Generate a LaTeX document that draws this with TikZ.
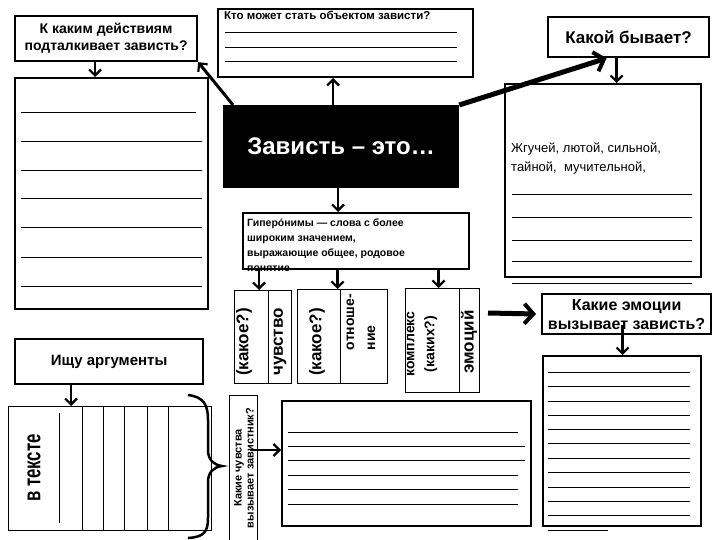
\documentclass[tikz,border=0pt]{standalone}
\usepackage{fontspec}
\setmainfont{Liberation Sans}
\newfontfamily\narrowsans[FakeStretch=0.7]{Liberation Sans}
\usetikzlibrary{arrows.meta,positioning}

\begin{document}
\begin{tikzpicture}[x=1pt, y=-1pt,
        box/.style={draw, line width=2.2pt, inner sep=0pt, align=center, anchor=north west,
            font=\bfseries\fontsize{14}{17}\selectfont},
        sheet/.style={draw, line width=2pt, inner sep=0pt, anchor=north west},
        cell/.style={draw, line width=1pt, inner sep=0pt, anchor=north west},
        vtext/.style={rotate=90, inner sep=0pt, align=center, font=\bfseries\fontsize{17}{20}\selectfont},
        rule/.style={line width=1pt},
        arr/.style={-{Straight Barb[length=6pt, width=12pt, line width=2.2pt]}, line width=2.5pt},
        fatarr/.style={-{Straight Barb[length=9pt, width=20pt, line width=4pt]}, line width=5pt}
    ]
        \useasboundingbox (0,0) rectangle (720,540);

        \node[box, minimum width=182pt, minimum height=45pt] (ask) at (14,15) {К каким действиям\\подталкивает зависть?};
        \node[sheet, minimum width=193pt, minimum height=231pt] (deeds) at (14,77) {};
        \node[sheet, minimum width=255pt, minimum height=68pt] (whom) at (217,8) {};
        \node[anchor=north west, inner sep=0pt, font=\bfseries\fontsize{11.5}{13}\selectfont] (whomq) at (224,11) {Кто может стать объектом зависти?};
        \node[box, fill=black, text=white, minimum width=234pt, minimum height=81pt,
            font=\bfseries\fontsize{24}{28}\selectfont] (envy) at (223,105) {Зависть – это…};
        \node[box, minimum width=161pt, minimum height=40pt, font=\bfseries\fontsize{17}{20}\selectfont] (kind) at (547,16) {Какой бывает?};
        \node[sheet, minimum width=196pt, minimum height=193pt] (kinds) at (504,83) {};
        \node[anchor=north west, align=left, inner sep=0pt, font=\fontsize{13}{19}\selectfont] (kindsq) at (511,143) {Жгучей, лютой, сильной,\\тайной,\ \ мучительной,};

        \node[anchor=north west, align=left, inner sep=0pt, font=\bfseries\fontsize{10.5}{15}\selectfont] (hypq) at (247,219)
            {Гиперо́нимы — слова с более\\широким значением,\\выражающие общее, родовое\\понятие};
        \node[sheet, minimum width=226pt, minimum height=56pt] (hyp) at (242,212) {};

        \node[cell, minimum width=57pt, minimum height=93pt] (cella) at (234,290) {};
        \node[cell, minimum width=90pt, minimum height=94pt] (cellb) at (297,289) {};
        \node[cell, minimum width=74pt, minimum height=104pt] (cellc) at (405,288) {};
        \draw[line width=1pt] ([xshift=34pt]cella.north west) -- ([xshift=34pt]cella.south west);
        \draw[line width=1pt] ([xshift=43pt]cellb.north west) -- ([xshift=43pt]cellb.south west);
        \draw[line width=1pt] ([xshift=54pt]cellc.north west) -- ([xshift=54pt]cellc.south west);
        \node[vtext] (a1) at (244,342) {(какое?)};
        \node[vtext] (a2) at (280,342) {чувство};
        \node[vtext] (b1) at (317,342) {(какое?)};
        \node[vtext, align=left, font=\bfseries\fontsize{14}{21}\selectfont] (b2) at (361,322) {отноше-\\ние};
        \node[vtext, font=\bfseries\fontsize{14}{20}\selectfont] (c1) at (422,344) {комплекс\\(каких?)};
        \node[vtext] (c2) at (469,342) {эмоций};

        \node[box, minimum width=169pt, minimum height=40pt, font=\bfseries\fontsize{16}{19}\selectfont] (emo) at (541,293) {Какие эмоции\\вызывает зависть?};
        \node[sheet, minimum width=158pt, minimum height=170pt] (emos) at (542,355) {};

        \node[box, minimum width=188pt, minimum height=45pt, font=\bfseries\fontsize{15}{18}\selectfont] (args) at (14,338) {Ищу аргументы};
        \node[sheet, line width=1.3pt, minimum width=203pt, minimum height=124pt] (intext) at (8,406) {};
        \node[vtext, font=\narrowsans\bfseries\fontsize{24}{26}\selectfont] (intextq) at (34,468) {в тексте};
        \node[cell, line width=1.2pt, minimum width=28pt, minimum height=150pt] (feel) at (229,395) {};
        \node[vtext, font=\bfseries\fontsize{11}{12}\selectfont] (feelq) at (244,468) {Какие чувства\\вызывает завистник?};
        \node[sheet, minimum width=249pt, minimum height=125pt] (fbox) at (281,400) {};

        \draw[arr] ([xshift=-11pt]ask.south) -- ([xshift=-11pt]ask.south |- deeds.north);
        \draw[arr] ([xshift=-8pt]envy.north) -- ([xshift=-8pt]envy.north |- whom.south);
        \draw[arr] ([xshift=-3pt]envy.south) -- ([xshift=-3pt]envy.south |- hyp.north);
        \draw[arr] ([xshift=-4pt]cella.north |- hyp.south) -- ([xshift=-4pt]cella.north);
        \draw[arr] ([xshift=-5pt]cellb.north |- hyp.south) -- ([xshift=-5pt]cellb.north);
        \draw[arr] ([xshift=-4pt]cellc.north |- hyp.south) -- ([xshift=-4pt]cellc.north);
        \draw[arr, line width=3pt] ([xshift=10pt]envy.north west) -- (ask.south east);
        \draw[fatarr] (envy.north east) -- ([xshift=-22pt]kind.south);
        \draw[arr] ([xshift=-12pt]kind.south) -- ([xshift=-12pt]kind.south |- kinds.north);
        \draw[arr] ([xshift=-4pt, yshift=10pt]emo.south) -- ([xshift=-4pt]emo.south |- emos.north);
        \coordinate (push) at (488,313);
        \draw[fatarr, shorten >=5pt] (push) -- (emo.west);
        \draw[arr] ([xshift=-38pt]args.south) -- ([xshift=-38pt]args.south |- intext.north);
        \coordinate (feelout) at (250,450);
        \draw[arr] (feelout) -- (feelout -| fbox.west);

        \draw[line width=2.5pt] (188,395) .. controls (204,397) and (208,405) .. (208,420) -- (208,450)
            .. controls (208,460) and (214,465) .. (222,466) .. controls (214,467) and (208,472) .. (208,482)
            -- (208,518) .. controls (208,532) and (204,537) .. (188,538);

        \draw[rule] (21,113) -- (196,113);
        \foreach \y in {142,171,199,228,257,286} \draw[rule] (21,\y) -- (202,\y);
        \foreach \y in {33,48,62} \draw[rule] (225,\y) -- (457,\y);
        \foreach \y in {195,218,240,261,283} \draw[rule] (512,\y) -- (692,\y);
        \foreach \y in {372,386,401,415,429,443,458,472,487,501,515} \draw[rule] (548,\y) -- (690,\y);
        \draw[rule] (548,530) -- (608,530);
        \foreach \y in {432,475,489,504} \draw[rule] (288,\y) -- (518,\y);
        \foreach \y in {446,460} \draw[rule] (288,\y) -- (525,\y);
        \draw[rule] (59,413) -- (59,523);
        \foreach \x in {82,103,124,147,168} \draw[rule] (\x,406) -- (\x,530);
    \end{tikzpicture}
\end{document}
